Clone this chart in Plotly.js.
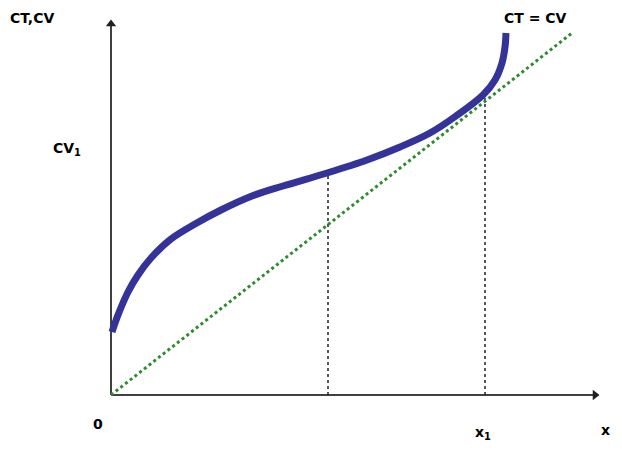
<!DOCTYPE html>
<html>
<head>
<meta charset="utf-8">
<script src="https://cdn.plot.ly/plotly-3.0.1.min.js"></script>
<style>html,body{margin:0;padding:0;background:#fff;}#chart{width:622px;height:450px;}</style>
</head>
<body>
<div id="chart"></div>
<script>
// Total cost curve (CT), in chart units
const curveX = [0.01, 0.07, 0.17, 0.27, 0.40, 0.60, 0.84, 1.10, 1.41, 1.72, 2.16, 2.56, 2.89, 3.19, 3.45, 3.72, 3.84, 3.91, 3.94, 3.95];
const curveY = [0.63, 0.80, 1.03, 1.20, 1.37, 1.56, 1.71, 1.85, 1.99, 2.09, 2.22, 2.35, 2.48, 2.62, 2.79, 3.00, 3.15, 3.32, 3.48, 3.62];
// 45-degree line CT = CV
const diagX = [0, 4.61];
const diagY = [0, 3.62];
// vertical guide lines
const guideX = [2.17, 3.74];
const guideTop = [2.22, 2.99];
// axes extents
const axisXEnd = 4.88;
const axisYEnd = 3.75;
// labels
const labels = {
  yTitle: "CT,CV",
  cv1: "CV<sub>1</sub>",
  origin: "0",
  x1: "x<sub>1</sub>",
  xTitle: "x",
  diag: "CT = CV"
};

const traces = [];
// axes
traces.push({x: [0, axisXEnd - 0.05], y: [0, 0], mode: 'lines', line: {color: '#404040', width: 2}, hoverinfo: 'skip', showlegend: false});
traces.push({x: [0, 0], y: [0, axisYEnd - 0.05], mode: 'lines', line: {color: '#404040', width: 2}, hoverinfo: 'skip', showlegend: false});
traces.push({x: [axisXEnd - 0.04], y: [0], mode: 'markers', marker: {symbol: 'triangle-right', size: 9, color: '#202020'}, hoverinfo: 'skip', showlegend: false});
traces.push({x: [0], y: [axisYEnd - 0.04], mode: 'markers', marker: {symbol: 'triangle-up', size: 9, color: '#202020'}, hoverinfo: 'skip', showlegend: false});
guideX.forEach((gx, i) => {
  traces.push({x: [gx, gx], y: [0, guideTop[i]], mode: 'lines',
    line: {color: '#222', width: 1.5, dash: 'dot'}, hoverinfo: 'skip', showlegend: false});
});
traces.push({x: diagX, y: diagY, mode: 'lines',
  line: {color: '#2e8b2e', width: 3, dash: 'dot'}, hoverinfo: 'skip', showlegend: false});
traces.push({x: curveX, y: curveY, mode: 'lines',
  line: {color: '#333399', width: 7, shape: 'spline', smoothing: 1}, hoverinfo: 'skip', showlegend: false});

const F = {family: 'DejaVu Sans, Liberation Sans, sans-serif', size: 14, color: '#000'};
const ann = (x, y, text, extra) => Object.assign({x, y, xref: 'paper', yref: 'paper', text, showarrow: false,
  font: F, xanchor: 'center', yanchor: 'middle'}, extra || {});

const layout = {
  width: 622, height: 450,
  margin: {l: 0, r: 0, t: 0, b: 0},
  paper_bgcolor: '#fff', plot_bgcolor: '#fff',
  xaxis: {range: [-1.11, 5.11], visible: false, fixedrange: true},
  yaxis: {range: [-0.55, 3.95], visible: false, fixedrange: true},
  showlegend: false,
  annotations: [
    ann(32/622, 1 - 18/450, '<b>' + labels.yTitle + '</b>'),
    ann(67/622, 1 - 149/450, '<b>' + labels.cv1 + '</b>'),
    ann(98/622, 1 - 424/450, '<b>' + labels.origin + '</b>'),
    ann(483/622, 1 - 433/450, '<b>' + labels.x1 + '</b>'),
    ann(605/622, 1 - 430/450, '<b>' + labels.xTitle + '</b>'),
    ann(535/622, 1 - 18/450, '<b>' + labels.diag + '</b>')
  ]
};

Plotly.newPlot('chart', traces, layout, {displayModeBar: false, staticPlot: true});
</script>
</body>
</html>
